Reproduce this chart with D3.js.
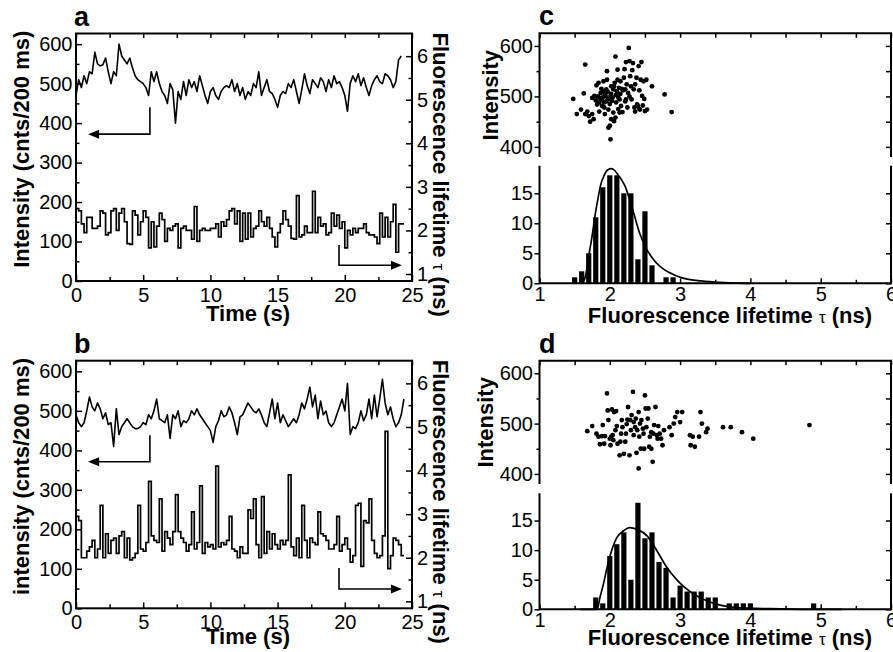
<!DOCTYPE html>
<html><head><meta charset="utf-8">
<script src="https://cdn.jsdelivr.net/npm/d3@7"></script>
<style>body{margin:0;background:#fff}svg{display:block}</style>
</head><body>
<script>
// ---------------- DATA ----------------
const SAMPLE = 0.2; // s per bin (200 ms)
const aIntensity = [470,510,490,520,500,530,525,580,550,545,548,565,530,500,530,520,600,570,560,550,
565,540,520,510,505,500,490,470,530,505,530,500,480,470,450,500,485,400,480,460,
505,470,510,490,505,480,520,495,470,450,480,490,470,460,480,490,495,490,510,480,
500,470,490,460,480,470,500,490,530,470,490,510,480,475,460,440,470,480,475,500,
490,510,480,450,485,525,495,475,510,500,490,515,505,480,510,490,520,500,505,490,
470,430,500,520,505,525,495,515,490,470,495,510,520,505,500,525,520,510,490,505,560,570];
const aLifetime = [2.5,2.45,2.15,1.95,2.3,2.3,2.05,2.05,2.1,2.45,2.4,1.9,1.95,2.45,2.5,2.0,2.4,2.5,2.2,1.7,
1.68,2.45,2.35,1.9,2.2,2.45,2.3,1.6,2.2,1.62,2.1,2.4,2.25,1.75,2.05,2.0,2.1,2.15,1.6,2.05,
2.1,2.0,2.0,1.8,2.55,1.75,2.0,2.05,2.0,2.0,2.05,2.05,2.15,1.85,2.2,2.1,2.25,2.45,2.5,2.15,
2.45,1.75,2.4,1.8,2.4,1.85,2.05,2.1,2.45,2.2,2.1,2.3,2.05,1.85,1.62,1.95,2.15,2.45,2.25,2.1,
1.82,1.8,2.8,1.85,1.9,2.1,1.95,1.95,2.9,1.95,2.3,2.1,2.15,1.9,1.95,2.4,2.1,2.35,2.05,2.2,
1.6,2.0,1.9,2.05,1.95,2.05,2.05,2.15,1.95,1.9,1.9,1.85,1.7,2.4,1.85,2.3,1.85,2.2,2.6,1.5,2.15,2.15];
const bIntensity = [490,470,460,470,500,535,510,500,520,505,480,495,465,470,410,505,440,460,470,480,
470,460,455,455,460,470,465,490,480,500,530,480,475,470,490,430,490,480,500,460,
475,470,480,500,490,505,490,480,470,460,450,420,460,475,500,485,490,510,495,470,
440,485,490,505,520,510,500,495,505,490,470,460,495,530,480,520,470,490,475,460,
470,480,470,490,520,505,530,560,510,540,480,525,490,500,470,460,470,490,510,530,
500,570,440,460,455,470,500,475,490,530,480,540,485,530,580,520,490,510,480,460,470,490,530];
const bLifetime = [2.95,2.85,2.0,2.0,2.15,2.25,2.4,2.0,2.2,3.2,2.0,2.55,2.1,2.4,2.45,2.1,2.5,2.6,2.0,2.45,
1.95,2.0,2.1,3.2,2.2,2.15,2.35,3.75,2.5,2.4,2.35,3.35,2.15,2.6,2.45,2.3,2.6,3.45,2.6,2.45,
2.35,2.15,2.3,3.05,2.2,2.35,3.65,2.1,2.35,2.25,2.3,2.2,4.1,2.25,2.35,2.3,2.4,2.95,2.2,2.15,
2.0,2.25,2.1,2.1,3.1,2.9,3.35,2.3,2.0,3.4,2.1,2.6,2.2,2.55,2.3,2.2,2.4,2.3,2.4,3.9,
2.25,2.05,2.45,2.0,3.2,2.4,2.0,2.45,2.35,2.3,3.05,2.55,2.5,2.4,2.2,2.2,2.3,2.95,2.15,2.3,
2.45,2.2,1.9,2.05,3.2,3.25,1.8,2.85,2.8,3.35,2.4,2.1,2.0,2.05,2.5,4.9,1.75,2.05,2.45,2.4,2.3,2.05];

const cScatter = [[1.48,495],[1.53,465],[1.59,474],[1.65,563],[1.63,506],[1.65,465],[1.70,461],[1.72,450],[1.75,465],[1.75,497],
[1.78,501],[1.81,522],[1.82,484],[1.84,527],[1.86,497],[1.87,507],[1.88,494],[1.89,481],[1.90,510],[1.91,530],
[1.92,488],[1.94,501],[1.95,514],[1.96,550],[1.96,533],[1.97,494],[1.98,474],[1.98,438],[2.00,442],[2.01,415],
[2.01,501],[2.02,520],[2.03,491],[2.05,514],[2.05,468],[2.06,451],[2.08,579],[2.08,458],[2.09,488],[2.10,510],
[2.11,533],[2.11,553],[2.13,517],[2.14,468],[2.14,494],[2.15,530],[2.16,481],[2.17,515],[2.18,469],[2.20,537],
[2.21,554],[2.22,514],[2.23,568],[2.23,494],[2.24,524],[2.26,507],[2.27,596],[2.28,570],[2.29,540],[2.30,520],
[2.31,494],[2.32,552],[2.33,566],[2.34,514],[2.35,478],[2.36,524],[2.38,537],[2.39,484],[2.40,481],[2.41,560],
[2.42,512],[2.43,474],[2.44,533],[2.45,568],[2.46,501],[2.47,482],[2.48,530],[2.49,495],[2.50,471],[2.52,533],
[2.53,474],[2.60,520],[2.78,504],[2.88,469],[1.80,492],[1.83,500],[1.85,488],[1.88,515],[1.90,498],[1.92,478],
[1.93,505],[1.95,490],[1.97,509],[1.99,496],[2.00,485],[2.02,505],[2.04,498],[2.06,520],[2.07,527],[2.09,503],
[2.12,498],[2.15,505],[2.19,512],[2.22,490],[2.25,478],[2.28,500],[1.68,470],[1.77,455],[1.85,470],[1.93,465],
[2.02,455],[2.12,475],[2.36,470],[2.42,475]];
const dScatter = [[1.68,485],[1.75,495],[1.81,480],[1.84,474],[1.86,459],[1.89,475],[1.90,497],[1.92,460],[1.93,475],[1.96,560],
[1.97,526],[1.98,507],[2.00,470],[2.01,457],[2.02,474],[2.03,528],[2.04,477],[2.05,467],[2.06,523],[2.08,487],
[2.09,525],[2.10,495],[2.11,460],[2.14,437],[2.15,464],[2.16,480],[2.17,507],[2.18,493],[2.20,440],[2.22,464],
[2.23,480],[2.24,499],[2.25,508],[2.26,533],[2.28,437],[2.29,507],[2.30,487],[2.31,517],[2.33,563],[2.34,503],
[2.34,477],[2.36,493],[2.37,510],[2.38,442],[2.39,487],[2.41,411],[2.41,523],[2.42,474],[2.43,500],[2.44,450],
[2.45,507],[2.47,490],[2.48,480],[2.49,450],[2.50,556],[2.51,530],[2.52,493],[2.54,510],[2.55,530],[2.56,454],
[2.57,474],[2.59,450],[2.59,483],[2.61,424],[2.62,480],[2.63,497],[2.65,533],[2.67,477],[2.68,470],[2.69,495],
[2.71,480],[2.73,470],[2.75,457],[2.77,487],[2.85,493],[2.88,477],[2.91,500],[2.93,513],[2.96,523],[3.00,503],
[3.03,523],[3.14,477],[3.15,457],[3.18,474],[3.21,454],[3.27,474],[3.29,523],[3.31,500],[3.37,483],[3.39,490],
[3.61,493],[3.72,493],[3.88,483],[4.04,470],[4.84,497]];

const cBinCenters = [1.5,1.6,1.7,1.8,1.9,2.0,2.1,2.2,2.3,2.4,2.5,2.6,2.8,2.9];
const cCounts     = [1,  2,  5,  11, 16, 18, 18, 15, 15, 4,  12, 3,  1,  1];
const dBinCenters = [1.8,1.9,2.0,2.1,2.2,2.3,2.4,2.5,2.6,2.7,2.8,2.9,3.0,3.1,3.2,3.3,3.4,3.5,3.7,3.8,3.9,4.0,4.9];
const dCounts     = [2,  1,  9,  11, 13, 5,  18, 12, 13, 8,  7,  2,  4,  3,  3,  3,  2,  2,  1,  1,  1,  1,  1];
const cFit = [[1.55,0],[1.62,0.2],[1.66,1.5],[1.70,4.5],[1.75,8],[1.79,11.3],[1.83,14],[1.87,16.4],[1.92,18],[1.97,18.9],
[2.02,19.1],[2.07,18.8],[2.12,18],[2.17,17.2],[2.22,16.1],[2.28,14],[2.34,11.7],[2.42,8.5],[2.51,6.0],[2.6,4.3],
[2.67,3.3],[2.76,2.4],[2.86,1.7],[3.0,1.0],[3.1,0.7],[3.3,0.4],[3.57,0.15],[3.8,0.03],[4.0,0]];
const dFit = [[1.58,0],[1.82,0],[1.86,2],[1.91,4.3],[1.96,7],[2.01,9.3],[2.10,12.1],[2.20,13.3],[2.28,13.8],[2.39,13.5],
[2.53,12.4],[2.67,9.9],[2.81,7.1],[2.96,4.9],[3.14,3.0],[3.33,1.7],[3.57,0.7],[3.81,0.3],[4.28,0.1],[4.75,0],[5.3,0]];

const timeTicks = [0,5,10,15,20,25], timeMinor = [2.5,7.5,12.5,17.5,22.5];
const intensityTicks = [0,100,200,300,400,500,600], intensityMinor = [50,150,250,350,450,550];
const lifetimeTicks = [1,2,3,4,5,6], lifetimeMinor = [1.5,2.5,3.5,4.5,5.5];
const tauTicks = [1,2,3,4,5,6], tauMinor = [1.5,2.5,3.5,4.5,5.5];
const scatterTicks = [400,500,600], scatterMinor = [450,550];
const countTicks = [0,5,10,15];

// ---------------- DRAWING ----------------
const FONT = '"Liberation Sans", Arial, Helvetica, sans-serif';
const W = 893, H = 652;
const TITLE = 22;
const svg = d3.select("body").append("svg").attr("width", W).attr("height", H)
  .attr("font-family", FONT);
const fmtInt = d3.format("d");

function ax(g, axisFn, scale, ticks, size, labels, pad, tr) {
  const a = axisFn(scale).tickValues(ticks).tickSizeInner(size).tickSizeOuter(0).tickPadding(pad);
  a.tickFormat(labels ? fmtInt : () => "");
  const s = g.append("g").attr("transform", tr).call(a);
  s.select(".domain").remove();
  s.selectAll("line").attr("stroke", "#000").attr("stroke-width", 1.5);
  s.selectAll("text").attr("font-size", 20).attr("font-family", FONT).attr("fill", "#000");
  return s;
}

function arrowHead(g, x, y, dir) {
  const L = 11, Hh = 4.5;
  g.append("path").attr("d", `M${x},${y} L${x - dir * L},${y - Hh} L${x - dir * L},${y + Hh} Z`).attr("fill", "#000");
}

function timePanel(o) {
  const L = 76, R = 412;
  const x = d3.scaleLinear().domain([0, 25]).range([L, R]);
  const yI = d3.scaleLinear().domain([0, 627]).range([o.bottom, o.top]);
  const yT = d3.scaleLinear().domain([0.84, 6.52]).range([o.bottom, o.top]);
  const g = svg.append("g");

  const upper = d3.line().x((d, i) => x(i * SAMPLE)).y(d => yI(d));
  g.append("path").attr("d", upper(o.intensity)).attr("fill", "none").attr("stroke", "#000")
    .attr("stroke-width", 1.6).attr("stroke-linejoin", "round");
  const stepPts = o.lifetime.map((v, i) => [i * SAMPLE, v]);
  stepPts.push([o.lifetime.length * SAMPLE, o.lifetime[o.lifetime.length - 1]]);
  const lower = d3.line().curve(d3.curveStepAfter).x(d => x(d[0])).y(d => yT(d[1]));
  g.append("path").attr("d", lower(stepPts)).attr("fill", "none").attr("stroke", "#000")
    .attr("stroke-width", 1.7);

  const aL = o.arrowLeft, aR = o.arrowRight;
  g.append("path").attr("d", `M${x(aL[0])},${yI(aL[1])} V${yI(aL[2])} H${x(aL[3]) + 8}`)
    .attr("fill", "none").attr("stroke", "#000").attr("stroke-width", 1.6);
  arrowHead(g, x(aL[3]), yI(aL[2]), -1);
  g.append("path").attr("d", `M${x(aR[0])},${yI(aR[1])} V${yI(aR[2])} H${x(aR[3]) - 8}`)
    .attr("fill", "none").attr("stroke", "#000").attr("stroke-width", 1.6);
  arrowHead(g, x(aR[3]), yI(aR[2]), 1);

  g.append("rect").attr("x", L).attr("y", o.top).attr("width", R - L).attr("height", o.bottom - o.top)
    .attr("fill", "none").attr("stroke", "#000").attr("stroke-width", 2);

  ax(g, d3.axisLeft, yI, intensityTicks, -6, true, 3.5, `translate(${L},0)`);
  ax(g, d3.axisLeft, yI, intensityMinor, -3.5, false, 3, `translate(${L},0)`);
  ax(g, d3.axisRight, yT, lifetimeTicks, -6, true, 5, `translate(${R},0)`);
  ax(g, d3.axisRight, yT, lifetimeMinor, -3.5, false, 3, `translate(${R},0)`);
  ax(g, d3.axisBottom, x, timeTicks, -6, true, 7, `translate(0,${o.bottom})`);
  ax(g, d3.axisBottom, x, timeMinor, -4, false, 3, `translate(0,${o.bottom})`);
  ax(g, d3.axisTop, x, timeTicks.concat(timeMinor), -4.5, false, 3, `translate(0,${o.top})`);

  g.append("text").attr("x", 74).attr("y", o.top - 8).attr("font-size", 27).attr("font-weight", "bold").text(o.letter);
  g.append("text").attr("transform", `translate(28.5,${(o.top + o.bottom) / 2 - 8}) rotate(-90)`)
    .attr("text-anchor", "middle").attr("font-size", TITLE).attr("font-weight", "bold").text(o.ylabel);
  const rt = g.append("text").attr("transform", `translate(433,${o.top - 1}) rotate(90)`)
    .attr("text-anchor", "start").attr("font-size", TITLE).attr("font-weight", "bold");
  rt.append("tspan").text("Fluorescence lifetime ");
  rt.append("tspan").attr("font-weight", "normal").attr("font-size", 17).text("τ");
  rt.append("tspan").text(" (ns)");
  g.append("text").attr("x", 248).attr("y", o.bottom + o.xlabDy).attr("text-anchor", "middle")
    .attr("font-size", TITLE).attr("font-weight", "bold").text("Time (s)");
}

function histPanel(o) {
  const L = 539.5, R = 891;
  const x = d3.scaleLinear().domain([1, 6]).range([L, R]);
  const yS = d3.scaleLinear().domain([380, 625]).range([o.sBottom, o.top]);
  const yH = d3.scaleLinear().domain([0, 19.6]).range([o.hBottom, o.hTop]);
  const g = svg.append("g");

  g.selectAll(null).data(o.points).enter().append("circle")
    .attr("cx", d => x(d[0])).attr("cy", d => yS(d[1])).attr("r", 2.4).attr("fill", "#000");

  const hw = 0.037;
  g.selectAll(null).data(o.centers).enter().append("rect")
    .attr("x", d => x(d - hw)).attr("width", d => x(d + hw) - x(d - hw))
    .attr("y", (d, i) => yH(o.counts[i])).attr("height", (d, i) => yH(0) - yH(o.counts[i]))
    .attr("fill", "#000");

  const fl = d3.line().curve(d3.curveMonotoneX).x(d => x(d[0])).y(d => yH(d[1]));
  g.append("path").attr("d", fl(o.fit)).attr("fill", "none").attr("stroke", "#000").attr("stroke-width", 1.7);

  g.append("path").attr("d", `M${L},${o.sBottom} V${o.top} H${R} V${o.sBottom}`)
    .attr("fill", "none").attr("stroke", "#000").attr("stroke-width", 2);
  g.append("path").attr("d", `M${L},${o.hTop} V${o.hBottom} H${R} V${o.hTop}`)
    .attr("fill", "none").attr("stroke", "#000").attr("stroke-width", 2);

  ax(g, d3.axisLeft, yS, scatterTicks, 5, true, 1.5, `translate(${L},0)`);
  ax(g, d3.axisLeft, yS, scatterMinor, 3, false, 1, `translate(${L},0)`);
  ax(g, d3.axisRight, yS, scatterTicks.concat(scatterMinor), -5, false, 1, `translate(${R},0)`);
  ax(g, d3.axisTop, x, tauTicks.concat(tauMinor), -4.5, false, 1, `translate(0,${o.top})`);
  ax(g, d3.axisLeft, yH, countTicks, 5, true, 1.5, `translate(${L},0)`);
  ax(g, d3.axisRight, yH, countTicks, -5, false, 1, `translate(${R},0)`);
  ax(g, d3.axisBottom, x, tauTicks, -5, true, 4, `translate(0,${o.hBottom})`);
  ax(g, d3.axisBottom, x, tauMinor, -3.5, false, 1, `translate(0,${o.hBottom})`);

  g.append("text").attr("x", 539).attr("y", o.top - 8).attr("font-size", 27).attr("font-weight", "bold").text(o.letter);
  g.append("text").attr("transform", `translate(${o.ylabX},${(o.top + o.sBottom) / 2}) rotate(-90)`)
    .attr("text-anchor", "middle").attr("font-size", TITLE).attr("font-weight", "bold").text("Intensity");
  const xt = g.append("text").attr("x", 730).attr("y", o.hBottom + o.xlabDy).attr("text-anchor", "middle")
    .attr("font-size", TITLE).attr("font-weight", "bold");
  xt.append("tspan").text("Fluorescence lifetime ");
  xt.append("tspan").attr("font-weight", "normal").attr("font-size", 17).text("τ");
  xt.append("tspan").text(" (ns)");
}

timePanel({top: 33.5, bottom: 281, letter: "a", ylabel: "Intensity (cnts/200 ms)",
  intensity: aIntensity, lifetime: aLifetime, xlabDy: 40,
  arrowLeft: [5.5, 440, 372, 0.9], arrowRight: [19.57, 91, 40, 24.25]});
timePanel({top: 360.7, bottom: 608.3, letter: "b", ylabel: "intensity (cnts/200 ms)",
  intensity: bIntensity, lifetime: bLifetime, xlabDy: 36,
  arrowLeft: [5.5, 438, 371, 0.9], arrowRight: [19.57, 102, 49, 24.25]});
histPanel({top: 33.3, sBottom: 157, hTop: 165.7, hBottom: 283.3, letter: "c", ylabX: 498,
  points: cScatter, centers: cBinCenters, counts: cCounts, fit: cFit, xlabDy: 40});
histPanel({top: 360.7, sBottom: 484, hTop: 493.3, hBottom: 609.3, letter: "d", ylabX: 493,
  points: dScatter, centers: dBinCenters, counts: dCounts, fit: dFit, xlabDy: 35.5});
</script>
</body></html>
